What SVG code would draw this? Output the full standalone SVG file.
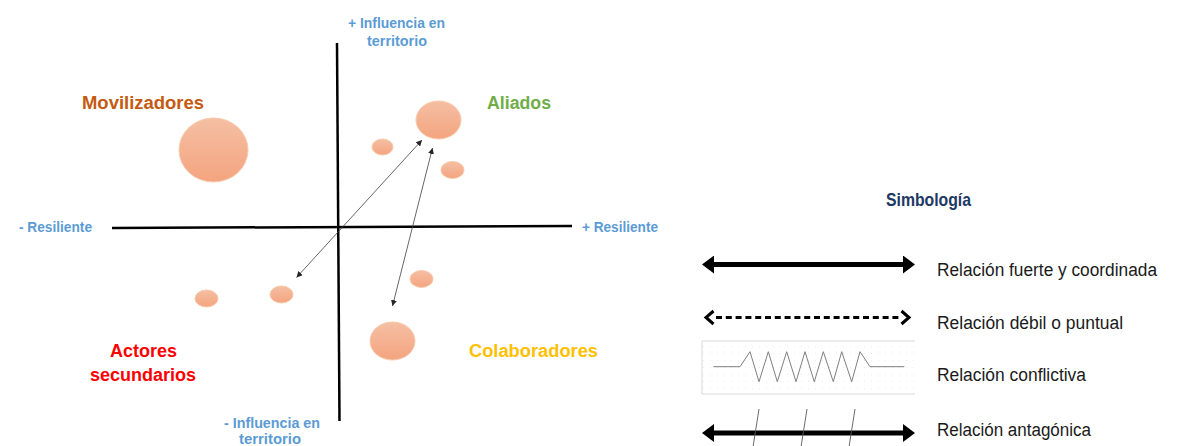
<svg xmlns="http://www.w3.org/2000/svg" width="1185" height="446" viewBox="0 0 1185 446">
<defs>
<style>
.ax{stroke:#000;stroke-width:2.5;fill:none}
.axl{font-family:"Liberation Sans",Arial,sans-serif;font-weight:bold;font-size:14.5px;fill:#5B9BD5}
.ql{font-family:"Liberation Sans",Arial,sans-serif;font-weight:bold;font-size:18px}
.bub{fill:url(#bg);stroke:#F8CBAD;stroke-width:1}
.rel{stroke:#404040;stroke-width:0.8;fill:none;marker-start:url(#sm);marker-end:url(#sm)}
.lg{font-family:"Liberation Sans",Arial,sans-serif;font-size:18px;fill:#1a1a1a}
.thick{stroke:#000;stroke-width:5;fill:none;marker-start:url(#th);marker-end:url(#th)}
.tick{stroke:#595959;stroke-width:0.9}
</style>
<linearGradient id="bg" x1="0" y1="0" x2="0" y2="1">
<stop offset="0" stop-color="#F5BFA3"/>
<stop offset="1" stop-color="#F4A47F"/>
</linearGradient>
<marker id="sm" viewBox="0 0 6 6" refX="6" refY="3" markerWidth="6" markerHeight="6" markerUnits="userSpaceOnUse" orient="auto-start-reverse">
<path d="M0,0 L6,3 L0,6 z" fill="#262626"/>
</marker>
<marker id="th" viewBox="0 0 12 18" refX="2" refY="9" markerWidth="12" markerHeight="18" markerUnits="userSpaceOnUse" orient="auto-start-reverse">
<path d="M0,0 L12,9 L0,18 z" fill="#000"/>
</marker>
<pattern id="dots" width="7" height="7" patternUnits="userSpaceOnUse">
<circle cx="3.5" cy="3.5" r="0.5" fill="#E6E6E6"/>
</pattern>
</defs>
<rect width="1185" height="446" fill="#fff"/>

<g id="axes">
<line class="ax" x1="337" y1="43" x2="339.5" y2="421"/>
<line class="ax" x1="112" y1="228" x2="572" y2="226"/>
<text class="axl" x="348" y="28" textLength="97" lengthAdjust="spacingAndGlyphs">+ Influencia en</text>
<text class="axl" x="367" y="46" textLength="60" lengthAdjust="spacingAndGlyphs">territorio</text>
<text class="axl" x="19" y="232" textLength="73" lengthAdjust="spacingAndGlyphs">- Resiliente</text>
<text class="axl" x="582" y="232" textLength="76" lengthAdjust="spacingAndGlyphs">+ Resiliente</text>
<text class="axl" x="224" y="428" textLength="96" lengthAdjust="spacingAndGlyphs">- Influencia en</text>
<text class="axl" x="239" y="444" textLength="62" lengthAdjust="spacingAndGlyphs">territorio</text>
</g>

<g id="quadrant-labels">
<text class="ql" x="82" y="109" fill="#C55A11" textLength="122" lengthAdjust="spacingAndGlyphs">Movilizadores</text>
<text class="ql" x="487" y="109" fill="#70AD47" textLength="64" lengthAdjust="spacingAndGlyphs">Aliados</text>
<text class="ql" x="110" y="357" fill="#FF0000" textLength="67" lengthAdjust="spacingAndGlyphs">Actores</text>
<text class="ql" x="90" y="381" fill="#FF0000" textLength="106" lengthAdjust="spacingAndGlyphs">secundarios</text>
<text class="ql" x="469" y="357" fill="#FFC000" textLength="129" lengthAdjust="spacingAndGlyphs">Colaboradores</text>
</g>

<g id="node-movilizadores"><ellipse class="bub" cx="213.5" cy="150" rx="34.5" ry="32"/></g>
<g id="node-aliados"><ellipse class="bub" cx="438.5" cy="120" rx="22.5" ry="19"/></g>
<g id="node-a2"><ellipse class="bub" cx="382.5" cy="147" rx="10.5" ry="8"/></g>
<g id="node-a3"><ellipse class="bub" cx="452.5" cy="170" rx="11.5" ry="8.5"/></g>
<g id="node-c2"><ellipse class="bub" cx="421.5" cy="279" rx="11.5" ry="8.5"/></g>
<g id="node-s1"><ellipse class="bub" cx="281.5" cy="294.5" rx="11.5" ry="8.5"/></g>
<g id="node-s2"><ellipse class="bub" cx="206.5" cy="298.5" rx="11.5" ry="8.5"/></g>
<g id="node-colaboradores"><ellipse class="bub" cx="392.5" cy="341" rx="22.5" ry="19"/></g>

<g id="connectors">
<line class="rel" x1="296.5" y1="277.5" x2="422" y2="140"/>
<line class="rel" x1="392.5" y1="306" x2="432.5" y2="148"/>
</g>

<g id="legend">
<text x="886" y="206" font-family="'Liberation Sans',Arial,sans-serif" font-weight="bold" font-size="19" fill="#203864" textLength="85" lengthAdjust="spacingAndGlyphs">Simbología</text>

<g id="legend-strong">
<line class="thick" x1="712" y1="264.5" x2="905" y2="264.5"/>
<text class="lg" x="937" y="276" textLength="220" lengthAdjust="spacingAndGlyphs">Relación fuerte y coordinada</text>
</g>

<g id="legend-weak">
<line x1="716" y1="317.5" x2="899" y2="317.5" stroke="#000" stroke-width="3" stroke-dasharray="6 3.8"/>
<polyline points="713.5,311 706,317.5 713.5,324" fill="none" stroke="#000" stroke-width="3"/>
<polyline points="901.5,311 909,317.5 901.5,324" fill="none" stroke="#000" stroke-width="3"/>
<text class="lg" x="937" y="328.5" textLength="186" lengthAdjust="spacingAndGlyphs">Relación débil o puntual</text>
</g>

<g id="legend-conflict">
<rect x="702" y="341" width="213" height="53" fill="url(#dots)"/>
<path d="M915,341 H702 V394 H915" fill="none" stroke="#D9D9D9" stroke-width="1"/>
<polyline points="713.3,366.7 740,366.7 750,351.7 759,381.7 768.3,351.7 777.3,381.7 786.7,351.7 796,381.7 805,351.7 814.3,381.7 823.3,351.7 833.3,381.7 841.7,351.7 851.7,381.7 860,351.7 870,366.7 904.3,366.7" fill="none" stroke="#7F7F7F" stroke-width="1"/>
<text class="lg" x="937" y="381" textLength="149" lengthAdjust="spacingAndGlyphs">Relación conflictiva</text>
</g>

<g id="legend-antagonic">
<line class="thick" x1="712" y1="433" x2="905" y2="433"/>
<line class="tick" x1="759" y1="409" x2="753" y2="447"/>
<line class="tick" x1="807" y1="409" x2="801" y2="447"/>
<line class="tick" x1="855" y1="409" x2="849" y2="447"/>
<text class="lg" x="937" y="436" textLength="154" lengthAdjust="spacingAndGlyphs">Relación antagónica</text>
</g>
</g>
</svg>
